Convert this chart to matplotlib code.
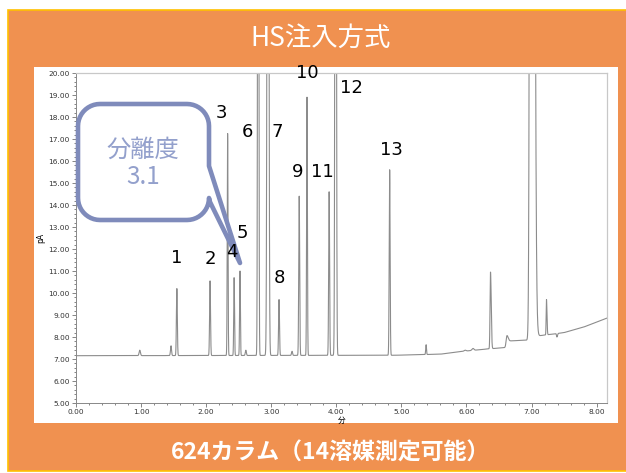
import numpy as np
import matplotlib.pyplot as plt
from matplotlib.patches import Rectangle, Polygon
from matplotlib.ticker import MultipleLocator, FormatStrFormatter

# Datos del cromatograma
rt = [0.98, 1.46, 1.55, 2.06, 2.33, 2.43, 2.52, 2.61, 2.80, 2.95, 3.12, 3.32,
      3.43, 3.55, 3.89, 3.99, 4.82, 5.38, 5.98, 6.10, 6.37, 6.62, 7.00, 7.23, 7.39]
apex = [7.40, 7.60, 10.20, 10.55, 17.25, 10.70, 11.00, 7.40, 60.0, 60.0, 9.70, 7.35,
        14.40, 18.90, 14.60, 60.0, 15.60, 7.65, 7.40, 7.48, 10.95, 8.05, 150.0, 9.70, 8.00]
ancho = [0.010, 0.008, 0.007, 0.007, 0.006, 0.006, 0.006, 0.008, 0.0075, 0.011, 0.007, 0.008,
         0.007, 0.006, 0.007, 0.009, 0.007, 0.006, 0.015, 0.015, 0.007, 0.012, 0.017, 0.005, 0.006]
cola = [1, 1, 1, 1, 1, 1, 1, 1, 1, 1, 1, 1,
        1, 1, 1, 1, 1, 1, 1, 1, 1.5, 1.5, 1.7, 1.5, 1.5]

base_t = [0.0, 4.9, 5.6, 5.95, 6.3, 6.6, 6.65, 6.95, 7.1, 7.5, 7.8, 8.16]
base_y = [7.15, 7.17, 7.22, 7.35, 7.45, 7.52, 7.82, 7.86, 8.05, 8.2, 8.45, 8.86]

etiquetas = ['1', '2', '3', '4', '5', '6', '7', '8', '9', '10', '11', '12', '13']
etq_x = [1.54, 2.06, 2.24, 2.40, 2.56, 2.63, 3.09, 3.13, 3.41, 3.55, 3.78, 4.24, 4.84]
etq_y = [11.6, 11.55, 18.2, 11.85, 12.75, 17.3, 17.3, 10.7, 15.5, 20.0, 15.5, 19.3, 16.5]

titulo = 'HS注入方式'
pie = '624カラム（14溶媒測定可能）'
nota = '分離度\n3.1'

W, H = 626, 473
naranja = '#F09150'
azul = '#7F8BBB'

plt.rcParams['font.family'] = ['DejaVu Sans', 'Noto Sans CJK JP']

fig = plt.figure(figsize=(W / 100, H / 100), dpi=100)
fig.patch.set_facecolor('white')


def fx(px):
    return px / W


def fy(py):
    return 1 - py / H


# Fondo naranja con borde amarillo y panel blanco
fig.patches.append(Rectangle((fx(8), fy(471)), fx(640) - fx(8), fy(10) - fy(471),
                             transform=fig.transFigure, facecolor=naranja,
                             edgecolor='#FFC000', lw=1.2, zorder=-10))
fig.patches.append(Rectangle((fx(34), fy(423)), fx(618) - fx(34), fy(67) - fy(423),
                             transform=fig.transFigure, facecolor='white',
                             edgecolor='none', zorder=-9))

fig.text(fx(321), fy(38), titulo, color='white', fontsize=19, ha='center', va='center',
         family=['Noto Sans CJK JP', 'DejaVu Sans'])
fig.text(fx(331), fy(453), pie, color='white', fontsize=16.5, ha='center', va='center',
         weight='bold', family=['Noto Sans CJK JP', 'DejaVu Sans'])

# Cromatograma
ax = fig.add_axes([fx(76), fy(403), fx(607) - fx(76), fy(73) - fy(403)])
t = np.linspace(0, 8.16, 30000)
senal = np.interp(t, base_t, base_y)
for r, a, w, c in zip(rt, apex, ancho, cola):
    b = np.interp(r, base_t, base_y)
    s = np.where(t < r, w, w * c)
    senal = senal + (a - b) * np.exp(-0.5 * ((t - r) / s) ** 2)

ax.plot(t, senal, color='#8C8C8C', lw=0.8, zorder=2)
ax.set_xlim(0, 8.16)
ax.set_ylim(5, 20)

ax.xaxis.set_major_locator(MultipleLocator(1))
ax.xaxis.set_minor_locator(MultipleLocator(0.2))
ax.yaxis.set_major_locator(MultipleLocator(1))
ax.yaxis.set_minor_locator(MultipleLocator(0.2))
ax.xaxis.set_major_formatter(FormatStrFormatter('%.2f'))
ax.yaxis.set_major_formatter(FormatStrFormatter('%.2f'))
ax.tick_params(which='both', labelsize=5.3, colors='#555555', labelcolor='#333333',
               direction='out', width=0.5)
ax.tick_params(which='major', length=3, pad=1.5)
ax.tick_params(which='minor', length=1.5)
for lado in ['left', 'bottom']:
    ax.spines[lado].set_color('#888888')
    ax.spines[lado].set_linewidth(0.7)
for lado in ['top', 'right']:
    ax.spines[lado].set_color('#C8C8C8')
    ax.spines[lado].set_linewidth(0.9)

ax.set_xlabel('分', fontsize=5.5, labelpad=1, family=['Noto Sans CJK JP'])
ax.set_ylabel('pA', fontsize=5.5, labelpad=2)

for s, x, y in zip(etiquetas, etq_x, etq_y):
    ax.text(x, y, s, fontsize=13, ha='center', va='center', color='black',
            clip_on=False, zorder=4)

# Globo con "分離度 3.1"
x0, x1, y0, y1, r = 78, 209, 104, 220, 22
pts = []


def arco(cx, cy, a0, a1):
    for a in np.linspace(np.radians(a0), np.radians(a1), 12):
        pts.append((cx + r * np.cos(a), cy + r * np.sin(a)))


arco(x1 - r, y0 + r, -90, 0)
pts += [(x1, 166), (240, 263), (x1 + 1, y1 - r + 4)]
arco(x1 - r, y1 - r, 0, 90)
arco(x0 + r, y1 - r, 90, 180)
arco(x0 + r, y0 + r, 180, 270)
globo = Polygon([(fx(px), fy(py)) for px, py in pts], closed=True,
                transform=fig.transFigure, facecolor='white', edgecolor=azul,
                lw=3.3, joinstyle='round', zorder=3, clip_on=False)
ax.add_patch(globo)
ax.text(fx(143), fy(163), nota, transform=fig.transFigure, fontsize=17.5, color='#93A0CC',
        ha='center', va='center', linespacing=1.05, clip_on=False, zorder=5,
        family=['Noto Sans CJK JP', 'DejaVu Sans'])

fig.savefig('out.png', dpi=100)
